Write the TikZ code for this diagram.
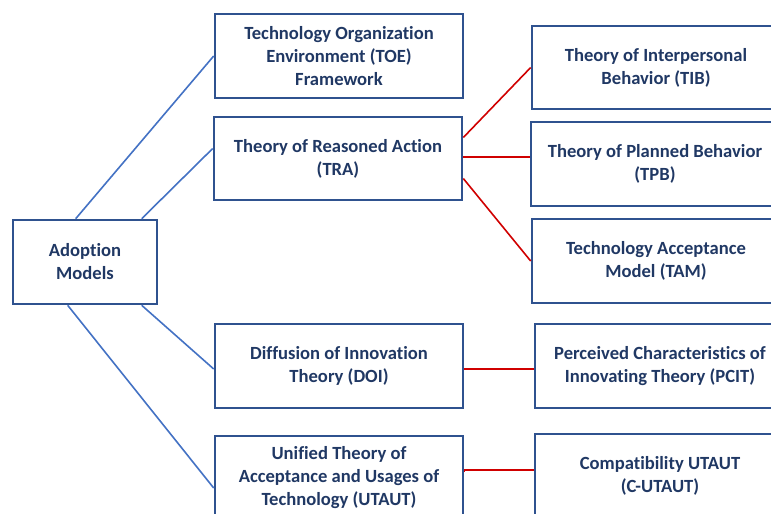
\documentclass[tikz,border=0pt]{standalone}
\usepackage{fontspec}
\setmainfont{Carlito}[Ligatures=NoCommon]
\usetikzlibrary{calc}
\definecolor{boxc}{HTML}{2F528F}
\definecolor{txtc}{HTML}{203864}
\definecolor{bluel}{HTML}{4472C4}
\definecolor{redl}{HTML}{D00000}
\tikzset{
  mbox/.style={draw=boxc, line width=2.6pt, fill=white, minimum width=248pt, minimum height=84pt,
    inner sep=0pt, align=center, text=txtc, font=\fontsize{18.6}{23}\selectfont\bfseries},
  bline/.style={draw=bluel, line width=1.6pt},
  rline/.style={draw=redl, line width=1.6pt}
}
\begin{document}
\begin{tikzpicture}[x=1pt,y=-1pt]
\useasboundingbox (0,0) rectangle (771,514);
\clip (0,0) rectangle (771,514);
\fill[white] (0,0) rectangle (771,514);
\node[mbox, minimum width=144pt] (adopt) at (85,262) {Adoption\\Models};
\node[mbox] (toe) at (339,56) {Technology Organization\\Environment (TOE)\\Framework};
\node[mbox, minimum height=83pt] (tra) at (338,158.5) {Theory of Reasoned Action\\(TRA)};
\node[mbox] (doi) at (339,366) {Diffusion of Innovation\\Theory (DOI)};
\node[mbox] (utaut) at (339,478) {Unified Theory of\\Acceptance and Usages of\\Technology (UTAUT)};
\node[mbox, minimum height=83pt] (tib) at (656,67.5) {Theory of Interpersonal\\Behavior (TIB)};
\node[mbox] (tpb) at (655,164) {Theory of Planned Behavior\\(TPB)};
\node[mbox] (tam) at (656,261) {Technology Acceptance\\Model (TAM)};
\node[mbox, minimum width=250pt] (pcit) at (660,366) {Perceived Characteristics of\\Innovating Theory (PCIT)};
\node[mbox, minimum width=250pt] (cutaut) at (660,476) {Compatibility UTAUT\\(C-UTAUT)};
% blue connectors
\draw[bline] ([xshift=64pt]adopt.north west) -- (toe.west);
\draw[bline] ([xshift=130pt]adopt.north west) -- ([yshift=10pt]tra.west);
\draw[bline] ([xshift=130pt]adopt.south west) -- ([yshift=-3pt]doi.west);
\draw[bline] ([xshift=56pt]adopt.south west) -- ([yshift=-10pt]utaut.west);
% red connectors
\draw[rline] ([yshift=21pt]tra.east) -- (tib.west);
\draw[rline] ([yshift=7pt]tpb.west -| tra.east) -- ([yshift=7pt]tpb.west);
\draw[rline] ([yshift=-20pt]tra.east) -- (tam.west);
\draw[rline] ([yshift=-3pt]doi.east) -- ([yshift=-3pt]pcit.west);
\draw[rline] ([yshift=6pt]utaut.east) -- ([yshift=6pt]cutaut.west -| utaut.east) -- ([yshift=6pt]cutaut.west);
\end{tikzpicture}
\end{document}
